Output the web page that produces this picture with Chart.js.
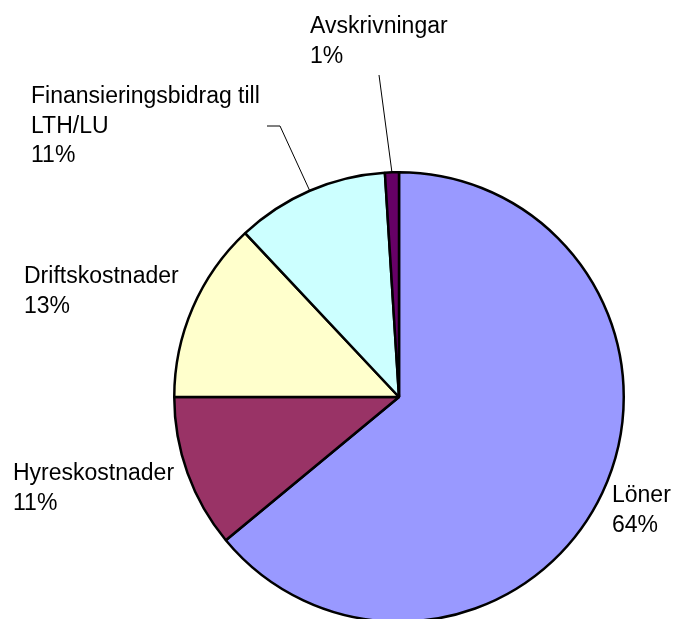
<!DOCTYPE html>
<html>
<head>
<meta charset="utf-8">
<script src="https://cdn.jsdelivr.net/npm/chart.js@4/dist/chart.umd.min.js"></script>
<style>
  html, body { margin: 0; padding: 0; background: #fff; overflow: hidden; }
  #wrap { width: 675px; height: 640px; }
</style>
</head>
<body>
<div id="wrap"><canvas id="pie" width="675" height="640"></canvas></div>
<script>
// kostnadsfördelning, medurs från klockan 12
const categories = ["Löner", "Hyreskostnader", "Driftskostnader", "Finansieringsbidrag till LTH/LU", "Avskrivningar"];
const values = [64, 11, 13, 11, 1];
const sliceColors = ["#9999FF", "#993366", "#FFFFCC", "#CCFFFF", "#660066"];

// var etiketterna står (vänsterkant, första baslinjen) och om de har ledarlinje
const labelSpots = [
  { x: 612, y: 502 },
  { x: 13, y: 480 },
  { x: 24, y: 283 },
  { x: 31, y: 103, leader: [[267, 126], [280, 126]] },
  { x: 310, y: 33, leader: [[379, 75]] },
];

const FONT = '23px "Liberation Sans", Arial, sans-serif';
const LINE_H = 29.5;

function wrapText(ctx, text, maxW) {
  const words = text.split(" ");
  const lines = [];
  let cur = "";
  words.forEach((w) => {
    const test = cur ? cur + " " + w : w;
    if (cur && ctx.measureText(test).width > maxW) {
      lines.push(cur);
      cur = w;
    } else {
      cur = test;
    }
  });
  if (cur) lines.push(cur);
  return lines;
}

const pieLabels = {
  id: "pieLabels",
  afterDatasetsDraw(chart) {
    const ctx = chart.ctx;
    const meta = chart.getDatasetMeta(0);
    const data = chart.data.datasets[0].data;
    const total = data.reduce((a, b) => a + b, 0);
    ctx.save();
    ctx.font = FONT;
    ctx.fillStyle = "#000";
    ctx.textBaseline = "alphabetic";
    ctx.textAlign = "left";
    meta.data.forEach((arc, i) => {
      const spot = labelSpots[i];
      if (spot.leader) {
        const p = arc.getProps(["x", "y", "startAngle", "endAngle", "outerRadius"], true);
        const mid = (p.startAngle + p.endAngle) / 2;
        const ex = p.x + Math.cos(mid) * p.outerRadius;
        const ey = p.y + Math.sin(mid) * p.outerRadius;
        ctx.beginPath();
        ctx.strokeStyle = "#000";
        ctx.lineWidth = 1;
        spot.leader.forEach((pt, k) => {
          if (k === 0) ctx.moveTo(pt[0], pt[1]);
          else ctx.lineTo(pt[0], pt[1]);
        });
        ctx.lineTo(ex, ey);
        ctx.stroke();
      }
      const lines = wrapText(ctx, chart.data.labels[i], 260);
      lines.push(Math.round((data[i] / total) * 100) + "%");
      lines.forEach((ln, k) => {
        ctx.fillText(ln, spot.x, spot.y + k * LINE_H);
      });
    });
    ctx.restore();
  },
};

new Chart(document.getElementById("pie").getContext("2d"), {
  type: "pie",
  data: {
    labels: categories,
    datasets: [
      {
        data: values,
        backgroundColor: sliceColors,
        borderColor: "#000",
        borderWidth: 2.5,
      },
    ],
  },
  options: {
    responsive: false,
    animation: false,
    layout: { padding: { left: 173, right: 50, top: 171, bottom: 17 } },
    plugins: {
      legend: { display: false },
      tooltip: { enabled: false },
    },
  },
  plugins: [pieLabels],
});
</script>
</body>
</html>
